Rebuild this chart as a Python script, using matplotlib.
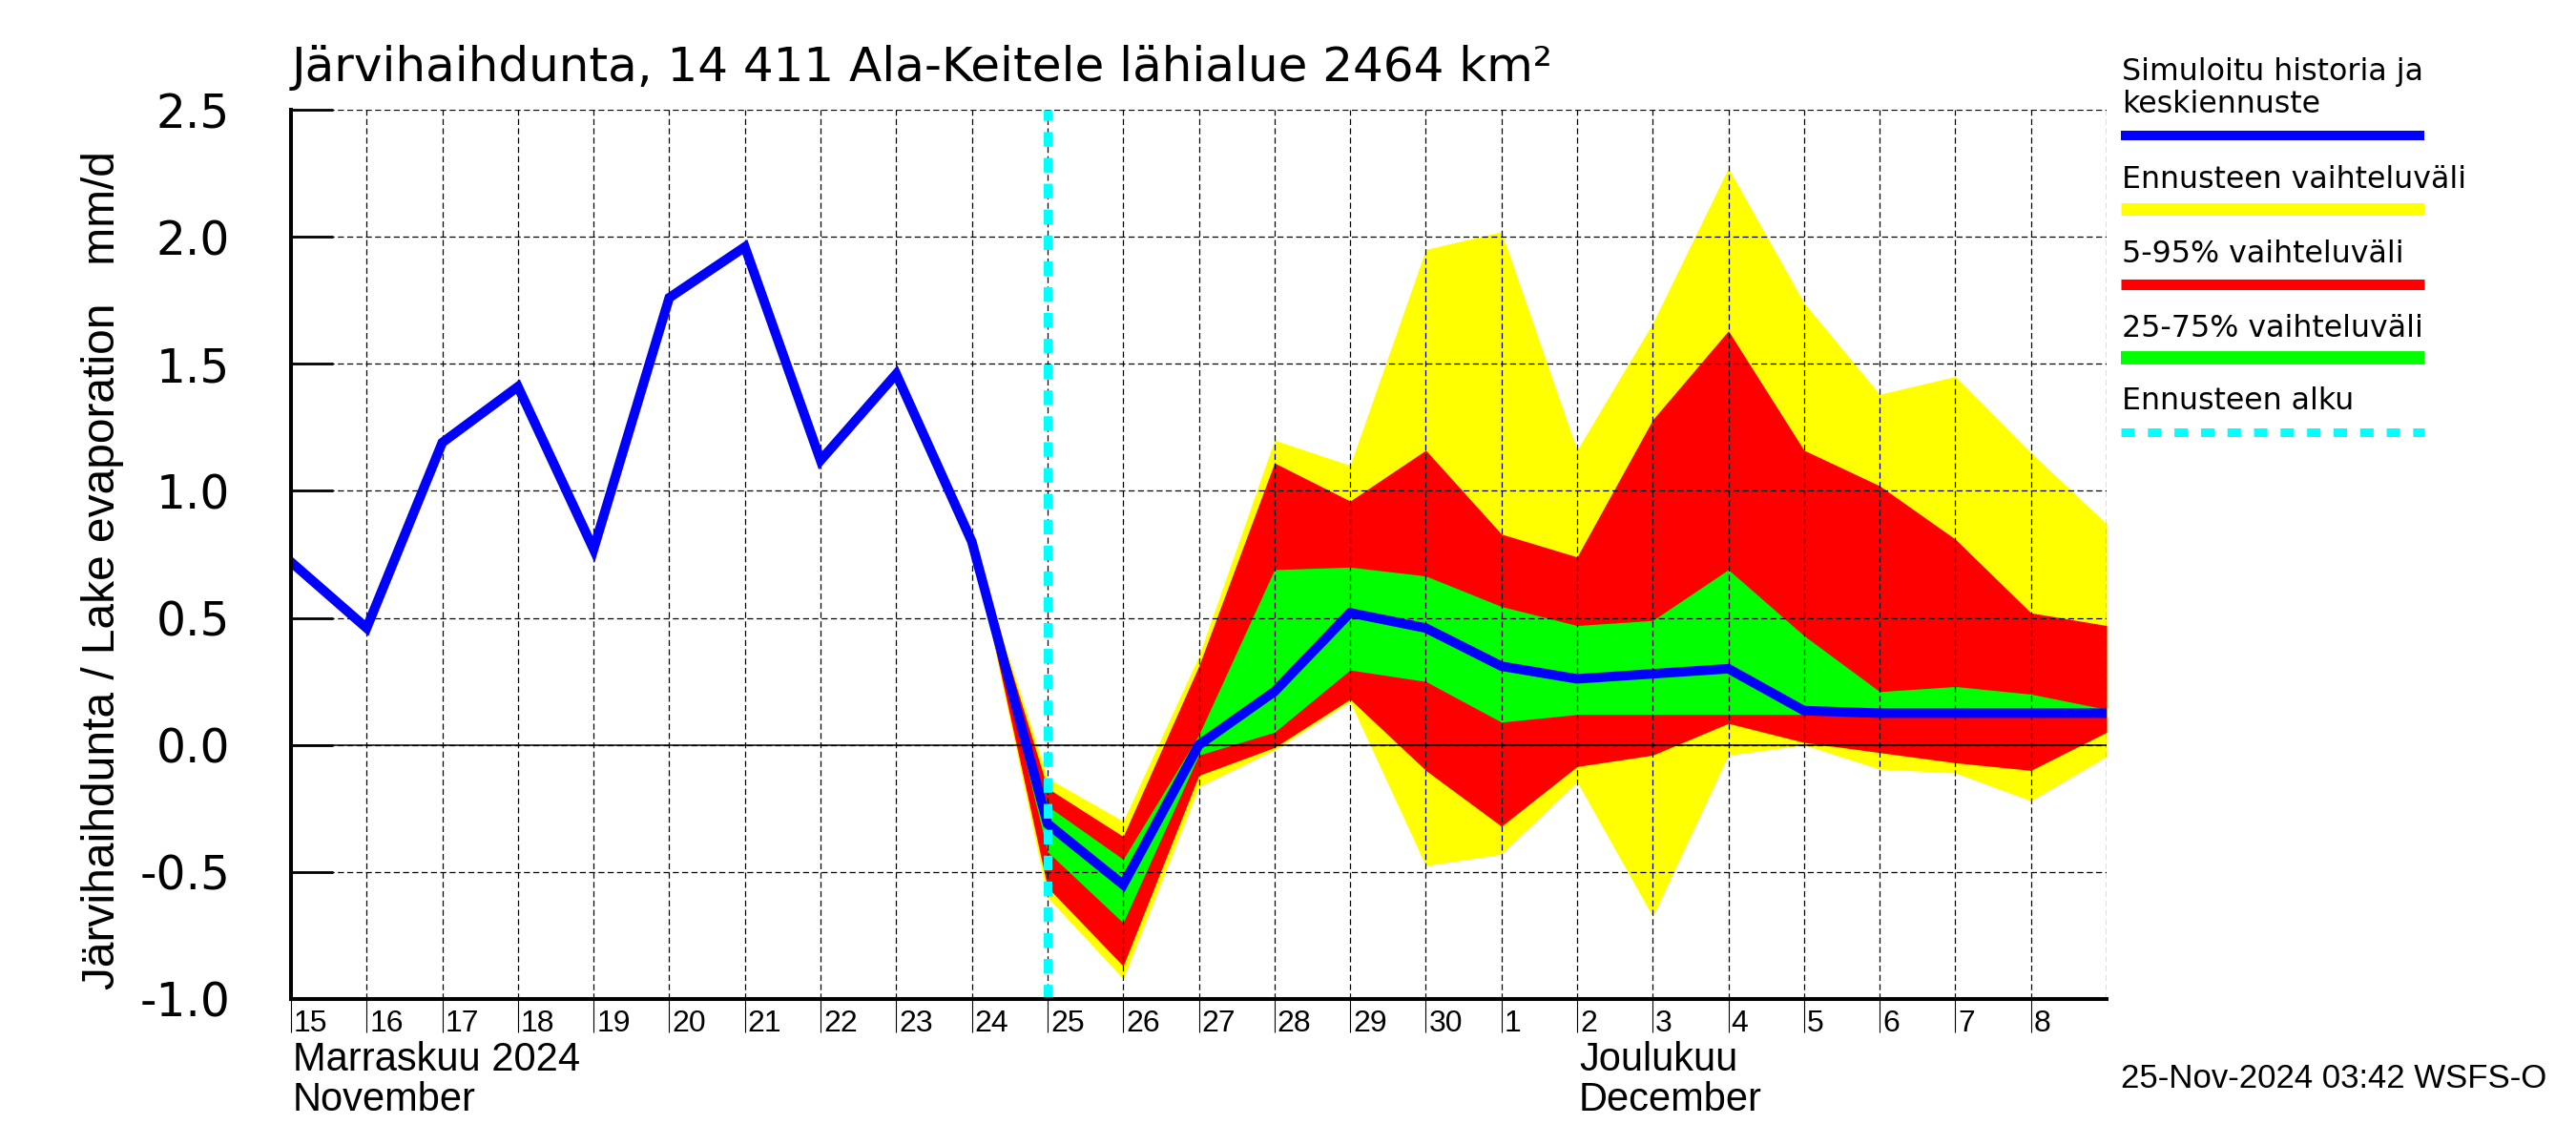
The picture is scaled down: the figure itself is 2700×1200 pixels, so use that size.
import numpy as np
import matplotlib.pyplot as plt
from matplotlib.lines import Line2D
from matplotlib import transforms

plt.rcParams['font.family'] = ['Liberation Sans', 'DejaVu Sans']

# Päivät 15.11.2024 - 9.12.2024
start = np.datetime64('2024-11-15')
days = np.arange(start, np.datetime64('2024-12-10'))
x = (days - start).astype(int)

# Simuloitu historia ja keskiennuste (15.11. - 9.12.)
mean = [0.72, 0.46, 1.19, 1.41, 0.77, 1.76, 1.96, 1.12, 1.46, 0.80,
        -0.31, -0.55, 0.00, 0.21, 0.52, 0.46, 0.31, 0.26, 0.28, 0.30,
        0.135, 0.125, 0.125, 0.125, 0.125]

# Ennusteen vaihteluvälit (24.11. - 9.12.)
band_x = x[9:]
yel_hi = [0.80, -0.13, -0.30, 0.35, 1.20, 1.10, 1.95, 2.02, 1.16, 1.66, 2.27, 1.74, 1.38, 1.45, 1.15, 0.87]
red_hi = [0.80, -0.17, -0.36, 0.31, 1.11, 0.96, 1.16, 0.83, 0.74, 1.28, 1.63, 1.16, 1.02, 0.81, 0.52, 0.47]
grn_hi = [0.80, -0.24, -0.45, 0.04, 0.69, 0.70, 0.665, 0.545, 0.47, 0.49, 0.69, 0.43, 0.21, 0.23, 0.20, 0.14]
grn_lo = [0.80, -0.42, -0.70, -0.04, 0.05, 0.295, 0.25, 0.09, 0.12, 0.12, 0.12, 0.12, 0.12, 0.12, 0.12, 0.12]
red_lo = [0.80, -0.56, -0.87, -0.12, -0.01, 0.18, -0.10, -0.32, -0.085, -0.04, 0.085, 0.01, -0.03, -0.07, -0.10, 0.05]
yel_lo = [0.80, -0.60, -0.92, -0.165, -0.02, 0.17, -0.475, -0.43, -0.145, -0.675, -0.04, 0.0, -0.095, -0.11, -0.22, -0.045]

forecast_start = (np.datetime64('2024-11-25') - start).astype(int)

day_labels = [str(d.astype(object).day) for d in days[:-1]]
yticks = [-1.0, -0.5, 0.0, 0.5, 1.0, 1.5, 2.0, 2.5]

wide = ['DejaVu Sans']

fig = plt.figure(figsize=(27, 12), dpi=100)
W, H = 2700, 1200
ax = fig.add_axes([305 / W, 1 - 1047 / H, (2208 - 305) / W, (1047 - 115) / H])

ax.fill_between(band_x, yel_lo, yel_hi, color='#ffff00', lw=0, zorder=1)
ax.fill_between(band_x, red_lo, red_hi, color='#ff0000', lw=0, zorder=1.1)
ax.fill_between(band_x, grn_lo, grn_hi, color='#00ff00', lw=0, zorder=1.2)
ax.plot(x, mean, color='#0000ff', lw=7.2, zorder=3, solid_joinstyle='miter')
ax.axvline(forecast_start, color='#00ffff', lw=6.5, ls=(0, (1.7, 1.3)), zorder=4)

ax.set_xlim(x[0], x[-1])
ax.set_ylim(-1.0, 2.5)

# ruudukko
ax.set_xticks(x[:-1])
ax.set_xticks([x[16]], minor=True)
ax.set_yticks(yticks)
ax.set_yticklabels([f'{v:.1f}' for v in yticks], family=wide)
ax.set_axisbelow(False)
ax.grid(True, color='k', lw=0.9, ls=(0, (5, 2.8)))
ax.axvline(x[-1], color='k', lw=0.9, ls=(0, (5, 2.8)), zorder=2.5)
ax.axhline(0, color='k', lw=1.1, zorder=2.6)

for s in ['top', 'right']:
    ax.spines[s].set_visible(False)
for s in ['left', 'bottom']:
    ax.spines[s].set_linewidth(2.9)
    ax.spines[s].set_zorder(5)

ax.tick_params(axis='y', direction='in', length=32, width=2, pad=46, labelsize=35)
ax.tick_params(axis='x', which='major', direction='out', length=25, width=0.8, labelbottom=False)
ax.tick_params(axis='x', which='minor', direction='out', length=50, width=0.8, labelbottom=False)

# päivien tunnisteet
tr = transforms.offset_copy(ax.get_xaxis_transform(), fig=fig, x=3, y=-11, units='dots')
for xi, lab in zip(x[:-1], day_labels):
    ax.text(xi, 0, lab, transform=tr, ha='left', va='top', fontsize=23)

tr_m1 = transforms.offset_copy(ax.get_xaxis_transform(), fig=fig, x=2, y=-44, units='dots')
tr_m2 = transforms.offset_copy(ax.get_xaxis_transform(), fig=fig, x=2, y=-86, units='dots')
ax.text(x[0], 0, 'Marraskuu 2024', transform=tr_m1, ha='left', va='top', fontsize=30)
ax.text(x[0], 0, 'November', transform=tr_m2, ha='left', va='top', fontsize=30)
ax.text(x[17], 0, 'Joulukuu', transform=tr_m1, ha='left', va='top', fontsize=30)
ax.text(x[17], 0, 'December', transform=tr_m2, ha='left', va='top', fontsize=30)

fig.text(306 / W, 1 - 85 / H, 'Järvihaihdunta, 14 411 Ala-Keitele lähialue 2464 km²',
         fontsize=36, va='baseline', ha='left', family=wide)
fig.text(107 / W, 1 - 598 / H, 'Järvihaihdunta / Lake evaporation   mm/d',
         fontsize=34.5, rotation=90, ha='center', va='center')
fig.text(2223 / W, 1 - 1140 / H, '25-Nov-2024 03:42 WSFS-O', fontsize=25, va='baseline')

# selite
leg_texts = [('Simuloitu historia ja', 84), ('keskiennuste', 118), ('Ennusteen vaihteluväli', 197),
             ('5-95% vaihteluväli', 275), ('25-75% vaihteluväli', 353), ('Ennusteen alku', 429)]
for t, yb in leg_texts:
    fig.text(2224 / W, 1 - yb / H, t, fontsize=22.8, va='baseline', ha='left', family=wide)

leg_lines = [('#0000ff', 142, 7.2, '-'), ('#ffff00', 219.5, 9.4, '-'),
             ('#ff0000', 297.5, 8.0, '-'), ('#00ff00', 375, 10.0, '-'),
             ('#00ffff', 452.5, 6.5, (0, (1.56, 1.52)))]
for c, yc, lw, ls in leg_lines:
    fig.add_artist(Line2D([2223 / W, 2541 / W], [1 - yc / H] * 2, transform=fig.transFigure,
                          color=c, lw=lw, ls=ls, solid_capstyle='butt', dash_capstyle='butt'))

fig.savefig('out.png', dpi=100)
